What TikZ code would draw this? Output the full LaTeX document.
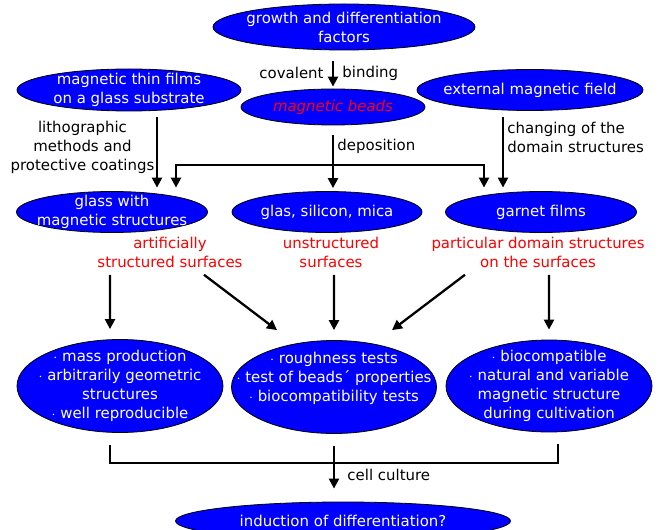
\documentclass[tikz,border=0pt]{standalone}
\usepackage{fontspec}
\setmainfont{DejaVu Sans}
\usepackage{tikz}
\usetikzlibrary{shapes.geometric,arrows.meta,positioning}

\tikzset{
  bubble/.style={ellipse, draw=black, line width=.8bp, fill=blue, inner sep=0pt},
  inside/.style={text=white, align=center},
  remark/.style={text=red, align=center},
  link/.style={line width=2.3bp},
  arr/.style={link, ->},
  >={Triangle[length=10bp,width=10bp]}
}

\begin{document}
\begin{tikzpicture}[x=1bp,y=-1bp,font=\fontsize{15}{19}\selectfont]
\useasboundingbox (0,0) rectangle (658,530);

% sources
\node[bubble, minimum width=262bp, minimum height=46bp,
  label={[inside]center:{growth and differentiation\\factors}}] (growth) at (344,27) {};
\node[bubble, minimum width=224bp, minimum height=42bp,
  label={[inside]center:{magnetic thin films\\on a glass substrate}}] (films) at (129,90) {};
\node[bubble, minimum width=184bp, minimum height=36bp,
  label={[inside,text=red]center:{\itshape magnetic beads}}] (beads) at (333,107) {};
\node[bubble, minimum width=226bp, minimum height=41bp,
  label={[inside]center:external magnetic field}] (extfield) at (530,90) {};

% substrates
\node[bubble, minimum width=191bp, minimum height=41bp,
  label={[inside]center:{glass with\\magnetic structures}}] (glass) at (112,212) {};
\node[bubble, minimum width=190bp, minimum height=41bp,
  label={[inside]center:{glas, silicon, mica}}] (plain) at (327,212) {};
\node[bubble, minimum width=191bp, minimum height=41bp,
  label={[inside]center:garnet films}] (garnet) at (541,212) {};

\node[remark] (artif) at (170,252) {artificially\\structured surfaces};
\node[remark] (unstr) at (331,252) {unstructured\\surfaces};
\node[remark] (partic) at (538,252) {particular domain structures\\on the surfaces};

% properties
\node[bubble, minimum width=206bp, minimum height=93bp,
  label={[inside]center:{$\cdot$ mass production\\$\cdot$ arbitrarily geometric\\structures\\$\cdot$ well reproducible}}] (mass) at (120,386) {};
\node[bubble, minimum width=205bp, minimum height=93bp,
  label={[inside,yshift=9bp]center:{$\cdot$ roughness tests\\$\cdot$ test of beads´ properties\\$\cdot$ biocompatibility tests}}] (tests) at (334,387) {};
\node[bubble, minimum width=206bp, minimum height=92bp,
  label={[inside]center:{$\cdot$ biocompatible\\$\cdot$ natural and variable\\magnetic structure\\during cultivation}}] (hints) at (549,386) {};

\node[bubble, minimum width=335bp, minimum height=38bp,
  label={[inside]center:{induction of differentiation?}}] (induct) at (343,521) {};

% connectors
\draw[arr, shorten <=11bp, shorten >=2bp] (beads.north |- growth.south) -- (beads.north)
  node[pos=.6, left=5bp] {covalent} node[pos=.6, right=5bp] {binding};
\draw[arr, shorten <=10bp, shorten >=3bp] (beads.south) -- (beads.south |- plain.north)
  node[pos=.32, right] {deposition};

\coordinate (litho) at ([xshift=28bp]films.south);
\draw[arr, shorten <=6bp, shorten >=3.5bp] (litho) -- (litho |- glass.north)
  node[pos=.45, left, inner sep=1.5bp, align=center] {lithographic\\methods and\\protective coatings};
\coordinate (chg) at ([xshift=-27bp]extfield.south);
\draw[arr, shorten <=6.5bp, shorten >=3.5bp] (chg) -- (chg |- garnet.north)
  node[pos=.33, right, align=left] {changing of the\\domain structures};

\coordinate (barL) at (176,165);
\coordinate (barR) at (484,165);
\draw[link, <->, shorten <=3.5bp, shorten >=3.5bp]
  (barL |- glass.north) -- (barL) -- (barR) -- (barR |- garnet.north);

\draw[arr] ([xshift=-60bp,yshift=-4bp]artif.south) -- ([xshift=-10bp,yshift=10bp]mass.north);
\draw[arr] ([xshift=34bp,yshift=-4bp]artif.south) -- ([xshift=-57bp,yshift=10bp]tests.north);
\draw[arr] ([xshift=3bp,yshift=-4bp]unstr.south) -- ([yshift=10bp]tests.north);
\draw[arr] ([xshift=-73bp,yshift=-4bp]partic.south) -- ([xshift=58bp,yshift=10bp]tests.north);
\draw[arr] ([xshift=11bp,yshift=-4bp]partic.south) -- ([yshift=10bp]hints.north);

\coordinate (join) at (334,463);
\draw[link] ([xshift=-10bp,yshift=-12bp]mass.south) |- (join) -| ([xshift=9bp,yshift=-12bp]hints.south);
\draw[link] ([yshift=-12bp]tests.south) -- (join);
\draw[arr, shorten >=13bp] (join) -- (join |- induct.north)
  node[pos=.3, right=9bp] {cell culture};
\end{tikzpicture}
\end{document}
